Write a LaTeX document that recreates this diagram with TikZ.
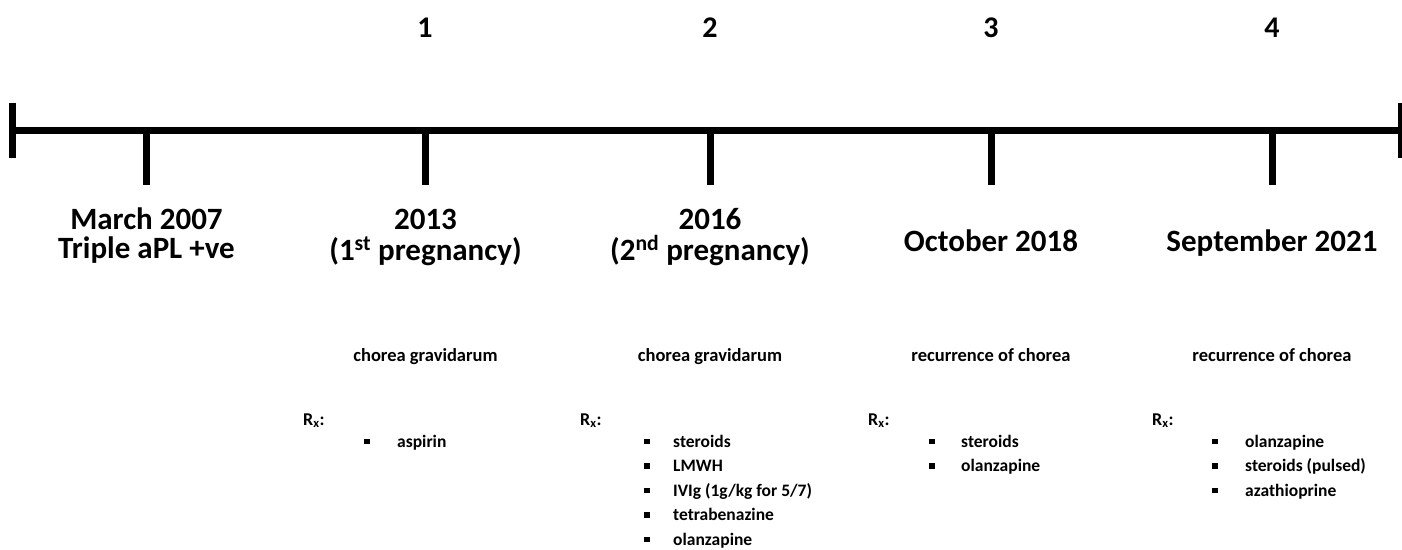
\documentclass[tikz,border=0pt]{standalone}
\usepackage{fontspec}
\setmainfont{Carlito}
\begin{document}
\begin{tikzpicture}[x=1pt,y=-1pt,
  bar/.style={line width=7pt},
  num/.style={font=\bfseries\fontsize{30}{32}\selectfont, anchor=base, inner sep=0},
  title/.style={font=\bfseries\fontsize{31}{32}\selectfont, anchor=base, inner sep=0},
  sub/.style={font=\bfseries\fontsize{18.5}{20}\selectfont, anchor=base, inner sep=0},
  rx/.style={font=\bfseries\fontsize{18}{20}\selectfont, anchor=base west, inner sep=0},
  item/.style={font=\bfseries\fontsize{17.5}{20}\selectfont, anchor=base west, inner sep=0},
  bul/.style={fill=black, minimum size=5.5pt, inner sep=0, anchor=center}
]
\useasboundingbox (0,0) rectangle (1402,549);
% axis
\coordinate (Lt) at (12.5,103);
\coordinate (Lb) at (12.5,158);
\coordinate (Rt) at (1401.5,103);
\coordinate (Rb) at (1401.5,158);
\coordinate (L) at (12.5,130);
\coordinate (R) at (1402,130);
\draw[bar] (L) -- (R);
\draw[bar] (Lt) -- (Lb);
\draw[bar] (Rt) -- (Rb);
\foreach \x/\n in {146.5/t0,425.5/t1,710/t2,991/t3,1272/t4}{
  \coordinate (\n) at (\x,130);
  \coordinate (\n e) at (\x,185);
  \draw[bar] (\n) -- (\n e);
}
% numbers
\node[num] (n1) at (425,37) {1};
\node[num] (n2) at (710,37) {2};
\node[num] (n3) at (991,37) {3};
\node[num] (n4) at (1272,37) {4};
% titles
\node[title] (a1) at (146.5,229) {March 2007};
\node[title] (a2) at (146.5,258) {Triple aPL +ve};
\node[title] (b1) at (425.5,229) {2013};
\node[title] (b2) at (425.5,260) {(1\textsuperscript{st} pregnancy)};
\node[title] (c1) at (710,229) {2016};
\node[title] (c2) at (710,260) {(2\textsuperscript{nd} pregnancy)};
\node[title] (d1) at (991,251) {October 2018};
\node[title] (e1) at (1272,251) {September 2021};
% subtitles
\node[sub] (s1) at (425.5,361) {chorea gravidarum};
\node[sub] (s2) at (710,361) {chorea gravidarum};
\node[sub] (s3) at (991,361) {recurrence of chorea};
\node[sub] (s4) at (1272,361) {recurrence of chorea};
% Rx labels
\node[rx] (r1) at (303,425) {R\textsubscript{x}:};
\node[rx] (r2) at (580,425) {R\textsubscript{x}:};
\node[rx] (r3) at (868,425) {R\textsubscript{x}:};
\node[rx] (r4) at (1152,425) {R\textsubscript{x}:};
% lists
\foreach \bx/\tx/\y/\name/\txt in {
  367/397/447/i11/aspirin,
  647/673/447/i21/steroids,
  647/673/471.5/i22/LMWH,
  647/673/496/i23/{IVIg (1g/kg for 5/7)},
  647/673/520.5/i24/tetrabenazine,
  647/673/545/i25/olanzapine,
  932/961/447/i31/steroids,
  932/961/471.5/i32/olanzapine,
  1215/1245/447/i41/olanzapine,
  1215/1245/471.5/i42/{steroids (pulsed)},
  1215/1245/496/i43/azathioprine}{
  \node[bul] (\name b) at (\bx,\y-5.5) {};
  \node[item] (\name) at (\tx,\y) {\txt};
}
\end{tikzpicture}
\end{document}
